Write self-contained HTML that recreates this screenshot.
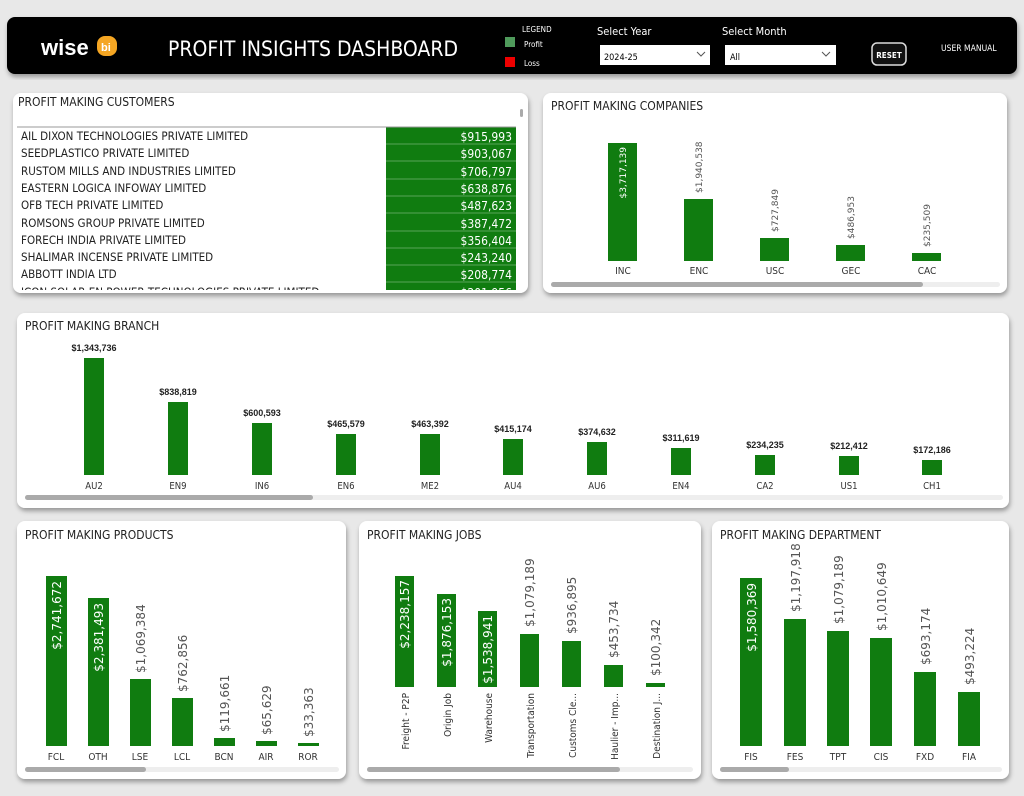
<!DOCTYPE html>
<html><head><meta charset="utf-8"><style>
html,body{margin:0;padding:0;background:#e8e8e8;}
svg{display:block;font-family:"DejaVu Sans Condensed","Liberation Sans",sans-serif;}
.t{font-family:"Liberation Sans",sans-serif;}
</style></head><body>
<svg width="1024" height="796" viewBox="0 0 1024 796" xmlns="http://www.w3.org/2000/svg">
<defs><filter id="sh" x="-5%" y="-5%" width="110%" height="115%"><feDropShadow dx="1" dy="3" stdDeviation="2.5" flood-color="#000" flood-opacity="0.35"/></filter>
<clipPath id="cc"><rect x="13" y="127" width="515" height="163"/></clipPath></defs>
<rect width="1024" height="796" fill="#e8e8e8"/>
<!-- header -->
<rect x="7" y="17" width="1010" height="57" rx="8" fill="#000" filter="url(#sh)"/>
<text x="41" y="55" fill="#fff" font-family="Liberation Sans" font-weight="bold" font-size="22">wise</text>
<rect x="97" y="36" width="20" height="20" rx="8" fill="#f5a623"/>
<text x="101" y="51" fill="#fff" font-family="Liberation Sans" font-weight="bold" font-size="11">bi</text>
<text x="168" y="56" fill="#fff" font-size="21">PROFIT INSIGHTS DASHBOARD</text>
<text x="522" y="32" fill="#fff" font-size="8">LEGEND</text>
<rect x="505" y="37" width="10" height="10" fill="#4f9a5b"/>
<text x="524" y="47" fill="#fff" font-size="8">Profit</text>
<rect x="505" y="57" width="10" height="10" fill="#e00"/>
<text x="524" y="66" fill="#fff" font-size="8">Loss</text>
<text x="597" y="35" fill="#fff" font-size="11">Select Year</text>
<rect x="600" y="45" width="110" height="20" fill="#fff"/>
<text x="604" y="60" fill="#000" font-size="9">2024-25</text>
<path d="M697 52l4 4 4-4" stroke="#555" fill="none"/>
<text x="722" y="35" fill="#fff" font-size="11">Select Month</text>
<rect x="725" y="45" width="111" height="20" fill="#fff"/>
<text x="730" y="60" fill="#000" font-size="9">All</text>
<path d="M822 52l4 4 4-4" stroke="#555" fill="none"/>
<rect x="872" y="43" width="34" height="22" rx="5" fill="#111" stroke="#ddd" stroke-width="1.5"/>
<text x="889" y="58" fill="#fff" font-size="8" font-weight="bold" text-anchor="middle">RESET</text>
<text x="941" y="51" fill="#fff" font-size="8.5">USER MANUAL</text>

<!-- customers -->
<rect x="13" y="93" width="515" height="200" rx="8" fill="#fff" filter="url(#sh)"/>
<text x="18" y="106" font-size="12" fill="#222">PROFIT MAKING CUSTOMERS</text>
<rect x="520" y="109" width="3" height="8" rx="1.5" fill="#aaa"/>
<rect x="386" y="127" width="130" height="163" fill="#107c10"/>
<line x1="17" y1="127" x2="516" y2="127" stroke="#999" stroke-width="1"/>
<g font-size="11.5" fill="#222" clip-path="url(#cc)">
<text x="21" y="140">AIL DIXON TECHNOLOGIES PRIVATE LIMITED</text>
<text x="21" y="157">SEEDPLASTICO PRIVATE LIMITED</text>
<text x="21" y="175">RUSTOM MILLS AND INDUSTRIES LIMITED</text>
<text x="21" y="192">EASTERN LOGICA INFOWAY LIMITED</text>
<text x="21" y="209">OFB TECH PRIVATE LIMITED</text>
<text x="21" y="227">ROMSONS GROUP PRIVATE LIMITED</text>
<text x="21" y="244">FORECH INDIA PRIVATE LIMITED</text>
<text x="21" y="261">SHALIMAR INCENSE PRIVATE LIMITED</text>
<text x="21" y="278">ABBOTT INDIA LTD</text>
<text x="21" y="296">ICON SOLAR-EN POWER TECHNOLOGIES PRIVATE LIMITED</text>
</g>
<g font-size="12" fill="#fff" text-anchor="end" clip-path="url(#cc)">
<text x="512" y="141">$915,993</text>
<text x="512" y="158">$903,067</text>
<text x="512" y="176">$706,797</text>
<text x="512" y="193">$638,876</text>
<text x="512" y="210">$487,623</text>
<text x="512" y="228">$387,472</text>
<text x="512" y="245">$356,404</text>
<text x="512" y="262">$243,240</text>
<text x="512" y="279">$208,774</text>
<text x="512" y="297">$201,956</text>
</g>
<g stroke="#fff" stroke-opacity="0.3"><line x1="386" y1="144" x2="516" y2="144"/><line x1="386" y1="161" x2="516" y2="161"/><line x1="386" y1="179" x2="516" y2="179"/><line x1="386" y1="196" x2="516" y2="196"/><line x1="386" y1="213" x2="516" y2="213"/><line x1="386" y1="231" x2="516" y2="231"/><line x1="386" y1="248" x2="516" y2="248"/><line x1="386" y1="265" x2="516" y2="265"/><line x1="386" y1="282" x2="516" y2="282"/></g>

<!-- companies -->
<rect x="543" y="93" width="464" height="200" rx="8" fill="#fff" filter="url(#sh)"/>
<text x="551" y="110" font-size="12" fill="#222">PROFIT MAKING COMPANIES</text>
<g fill="#107c10">
<rect x="608" y="143" width="29" height="118"/><rect x="684" y="199" width="29" height="62"/><rect x="760" y="238" width="29" height="23"/><rect x="836" y="245" width="29" height="16"/><rect x="912" y="253" width="29" height="8"/>
</g>
<g font-size="9" fill="#555" font-family="DejaVu Sans">
<text transform="translate(626,147) rotate(-90)" text-anchor="end" fill="#fff">$3,717,139</text>
<text transform="translate(702,193) rotate(-90)">$1,940,538</text>
<text transform="translate(778,232) rotate(-90)">$727,849</text>
<text transform="translate(854,239) rotate(-90)">$486,953</text>
<text transform="translate(930,247) rotate(-90)">$235,509</text>
</g>
<g font-size="10" fill="#333" text-anchor="middle">
<text x="623" y="274">INC</text><text x="699" y="274">ENC</text><text x="775" y="274">USC</text><text x="851" y="274">GEC</text><text x="927" y="274">CAC</text>
</g>
<rect x="551" y="282" width="449" height="5" rx="2.5" fill="#eee"/>
<rect x="551" y="282" width="372" height="5" rx="2.5" fill="#aaa"/>

<!-- branch -->
<rect x="17" y="313" width="992" height="195" rx="8" fill="#fff" filter="url(#sh)"/>
<text x="25" y="330" font-size="12" fill="#222">PROFIT MAKING BRANCH</text>
<g fill="#107c10">
<rect x="84" y="358" width="20" height="117"/><rect x="168" y="402" width="20" height="73"/><rect x="252" y="423" width="20" height="52"/><rect x="336" y="434" width="20" height="41"/><rect x="420" y="434" width="20" height="41"/><rect x="503" y="439" width="20" height="36"/><rect x="587" y="442" width="20" height="33"/><rect x="671" y="448" width="20" height="27"/><rect x="755" y="455" width="20" height="20"/><rect x="839" y="456" width="20" height="19"/><rect x="922" y="460" width="20" height="15"/>
</g>
<g font-size="9" fill="#222" text-anchor="middle" font-weight="bold" class="t">
<text x="94" y="351">$1,343,736</text><text x="178" y="395">$838,819</text><text x="262" y="416">$600,593</text><text x="346" y="427">$465,579</text><text x="430" y="427">$463,392</text><text x="513" y="432">$415,174</text><text x="597" y="435">$374,632</text><text x="681" y="441">$311,619</text><text x="765" y="448">$234,235</text><text x="849" y="449">$212,412</text><text x="932" y="453">$172,186</text>
</g>
<g font-size="9.5" fill="#333" text-anchor="middle">
<text x="94" y="489">AU2</text><text x="178" y="489">EN9</text><text x="262" y="489">IN6</text><text x="346" y="489">EN6</text><text x="430" y="489">ME2</text><text x="513" y="489">AU4</text><text x="597" y="489">AU6</text><text x="681" y="489">EN4</text><text x="765" y="489">CA2</text><text x="849" y="489">US1</text><text x="932" y="489">CH1</text>
</g>
<rect x="25" y="495" width="978" height="5" rx="2.5" fill="#eee"/>
<rect x="25" y="495" width="288" height="5" rx="2.5" fill="#aaa"/>

<!-- products -->
<rect x="17" y="521" width="329" height="258" rx="8" fill="#fff" filter="url(#sh)"/>
<text x="25" y="539" font-size="12" fill="#222">PROFIT MAKING PRODUCTS</text>
<g fill="#107c10">
<rect x="46" y="576" width="21" height="170"/><rect x="88" y="598" width="21" height="148"/><rect x="130" y="679" width="21" height="67"/><rect x="172" y="698" width="21" height="48"/><rect x="214" y="738" width="21" height="8"/><rect x="256" y="741" width="21" height="5"/><rect x="298" y="743" width="21" height="3"/>
</g>
<g font-size="12" fill="#555" font-family="DejaVu Sans">
<text transform="translate(61,581) rotate(-90)" text-anchor="end" fill="#fff">$2,741,672</text>
<text transform="translate(103,603) rotate(-90)" text-anchor="end" fill="#fff">$2,381,493</text>
<text transform="translate(145,673) rotate(-90)">$1,069,384</text>
<text transform="translate(187,692) rotate(-90)">$762,856</text>
<text transform="translate(229,732) rotate(-90)">$119,661</text>
<text transform="translate(271,735) rotate(-90)">$65,629</text>
<text transform="translate(313,737) rotate(-90)">$33,363</text>
</g>
<g font-size="10" fill="#333" text-anchor="middle">
<text x="56" y="760">FCL</text><text x="98" y="760">OTH</text><text x="140" y="760">LSE</text><text x="182" y="760">LCL</text><text x="224" y="760">BCN</text><text x="266" y="760">AIR</text><text x="308" y="760">ROR</text>
</g>
<rect x="25" y="767" width="314" height="5" rx="2.5" fill="#eee"/>
<rect x="25" y="767" width="121" height="5" rx="2.5" fill="#aaa"/>

<!-- jobs -->
<rect x="359" y="521" width="342" height="258" rx="8" fill="#fff" filter="url(#sh)"/>
<text x="367" y="539" font-size="12" fill="#222">PROFIT MAKING JOBS</text>
<g fill="#107c10">
<rect x="395" y="576" width="19" height="111"/><rect x="437" y="594" width="19" height="93"/><rect x="478" y="611" width="19" height="76"/><rect x="520" y="634" width="19" height="53"/><rect x="562" y="641" width="19" height="46"/><rect x="604" y="665" width="19" height="22"/><rect x="646" y="683" width="19" height="4"/>
</g>
<g font-size="12" fill="#555" font-family="DejaVu Sans">
<text transform="translate(409,580) rotate(-90)" text-anchor="end" fill="#fff">$2,238,157</text>
<text transform="translate(451,598) rotate(-90)" text-anchor="end" fill="#fff">$1,876,153</text>
<text transform="translate(492,615) rotate(-90)" text-anchor="end" fill="#fff">$1,538,941</text>
<text transform="translate(534,627) rotate(-90)">$1,079,189</text>
<text transform="translate(576,634) rotate(-90)">$936,895</text>
<text transform="translate(618,658) rotate(-90)">$453,734</text>
<text transform="translate(660,676) rotate(-90)">$100,342</text>
</g>
<g font-size="10" fill="#333" font-family="DejaVu Sans Condensed" text-anchor="end">
<text transform="translate(409,693) rotate(-90)">Freight - P2P</text>
<text transform="translate(451,693) rotate(-90)">Origin Job</text>
<text transform="translate(492,693) rotate(-90)">Warehouse</text>
<text transform="translate(534,693) rotate(-90)">Transportation</text>
<text transform="translate(576,693) rotate(-90)">Customs Cle...</text>
<text transform="translate(618,693) rotate(-90)">Haulier - Imp...</text>
<text transform="translate(660,693) rotate(-90)">Destination J...</text>
</g>
<rect x="367" y="767" width="326" height="5" rx="2.5" fill="#eee"/>
<rect x="367" y="767" width="253" height="5" rx="2.5" fill="#aaa"/>

<!-- department -->
<rect x="712" y="521" width="297" height="258" rx="8" fill="#fff" filter="url(#sh)"/>
<text x="720" y="539" font-size="12" fill="#222">PROFIT MAKING DEPARTMENT</text>
<g fill="#107c10">
<rect x="740" y="578" width="22" height="168"/><rect x="784" y="619" width="22" height="127"/><rect x="827" y="631" width="22" height="115"/><rect x="870" y="638" width="22" height="108"/><rect x="914" y="672" width="22" height="74"/><rect x="958" y="692" width="22" height="54"/>
</g>
<g font-size="12" fill="#555" font-family="DejaVu Sans">
<text transform="translate(756,583) rotate(-90)" text-anchor="end" fill="#fff">$1,580,369</text>
<text transform="translate(800,612) rotate(-90)">$1,197,918</text>
<text transform="translate(843,624) rotate(-90)">$1,079,189</text>
<text transform="translate(886,631) rotate(-90)">$1,010,649</text>
<text transform="translate(930,665) rotate(-90)">$693,174</text>
<text transform="translate(974,685) rotate(-90)">$493,224</text>
</g>
<g font-size="10" fill="#333" text-anchor="middle">
<text x="751" y="760">FIS</text><text x="795" y="760">FES</text><text x="838" y="760">TPT</text><text x="881" y="760">CIS</text><text x="925" y="760">FXD</text><text x="969" y="760">FIA</text>
</g>
<rect x="720" y="767" width="282" height="5" rx="2.5" fill="#eee"/>
<rect x="720" y="767" width="69" height="5" rx="2.5" fill="#aaa"/>
</svg>
</body></html>
